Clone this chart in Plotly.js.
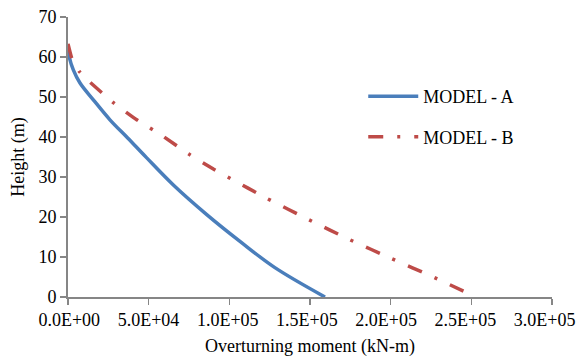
<!DOCTYPE html>
<html>
<head>
<meta charset="utf-8">
<script src="https://cdn.plot.ly/plotly-3.0.1.min.js"></script>
<style>html,body{margin:0;padding:0;background:#fff}#chart{width:578px;height:359px}</style>
</head>
<body>
<div id="chart"></div>
<script>
// Model A (solid blue): overturning moment (kN-m) vs height (m)
const momentA = [0, 800, 3300, 7440, 15700, 26000, 37000, 48500, 65300, 86000, 106600, 128000, 159300];
const heightA = [62.8, 60, 56.8, 53.5, 49.3, 44.3, 39.75, 34.9, 28.0, 20.6, 13.9, 7.4, 0];
// Model B (dash-dot red)
const momentB = [0, 2300, 7000, 13600, 27700, 42600, 58900, 74600, 90100, 99000, 123500, 149400, 174800, 200600, 226400, 253000];
const heightB = [63.3, 59.75, 56.4, 53.7, 48.7, 44.3, 40.2, 35.8, 32, 30.0, 24.6, 19.3, 14.3, 9.6, 5, 0];
const seriesNames = ["MODEL - A", "MODEL - B"];
const xTickVals = [0, 50000, 100000, 150000, 200000, 250000, 300000];
const xTickText = ["0.0E+00", "5.0E+04", "1.0E+05", "1.5E+05", "2.0E+05", "2.5E+05", "3.0E+05"];
const yTickVals = [0, 10, 20, 30, 40, 50, 60, 70];

const font = {family: "Liberation Serif", size: 18, color: "#000"};
const traces = [
  {x: momentA, y: heightA, name: seriesNames[0], legendgroup: "a", mode: "lines",
   line: {color: "#4A7EBB", width: 3.5, shape: "spline", smoothing: 1}},
  {x: momentB, y: heightB, name: seriesNames[1], legendgroup: "b", mode: "lines",
   line: {color: "#BE4B48", width: 3.5, dash: "15px,14px,3px,14px", shape: "spline", smoothing: 0.3}},
  // empty trace that only registers the label axis
  {x: [], y: [], xaxis: "x2", yaxis: "y", mode: "lines", showlegend: false, hoverinfo: "skip"}
];
const axisCommon = {showgrid: false, zeroline: false, showline: true, linecolor: "#868686", linewidth: 2,
  ticks: "outside", ticklen: 6, tickcolor: "#868686", tickwidth: 1.5, tickfont: font, automargin: false};
const layout = {
  width: 578, height: 359,
  margin: {l: 68, r: 26, t: 17, b: 62},
  paper_bgcolor: "#fff", plot_bgcolor: "#fff",
  font: font,
  xaxis: Object.assign({}, axisCommon, {range: [0, 300000], tickvals: xTickVals, showticklabels: false,
    title: {text: "Overturning moment (kN-m)", font: font, standoff: 35}}),
  // label-only axis: the reference's tick labels sit slightly left of their ticks
  xaxis2: {overlaying: "x", anchor: "y", side: "bottom", range: [-820, 304680], tickvals: xTickVals, ticktext: xTickText,
    showgrid: false, zeroline: false, showline: false, ticks: "outside", ticklen: 6, tickcolor: "rgba(0,0,0,0)",
    tickfont: font, automargin: false},
  yaxis: Object.assign({}, axisCommon, {range: [0, 70], tickvals: yTickVals,
    title: {text: "Height (m)", font: font, standoff: 9}}),
  legend: {x: 0.61, y: 0.782, xanchor: "left", yanchor: "top", font: font, bgcolor: "rgba(0,0,0,0)",
    tracegroupgap: 14, itemwidth: 50},
  showlegend: true
};
Plotly.newPlot("chart", traces, layout, {displayModeBar: false, staticPlot: true});
</script>
</body>
</html>
